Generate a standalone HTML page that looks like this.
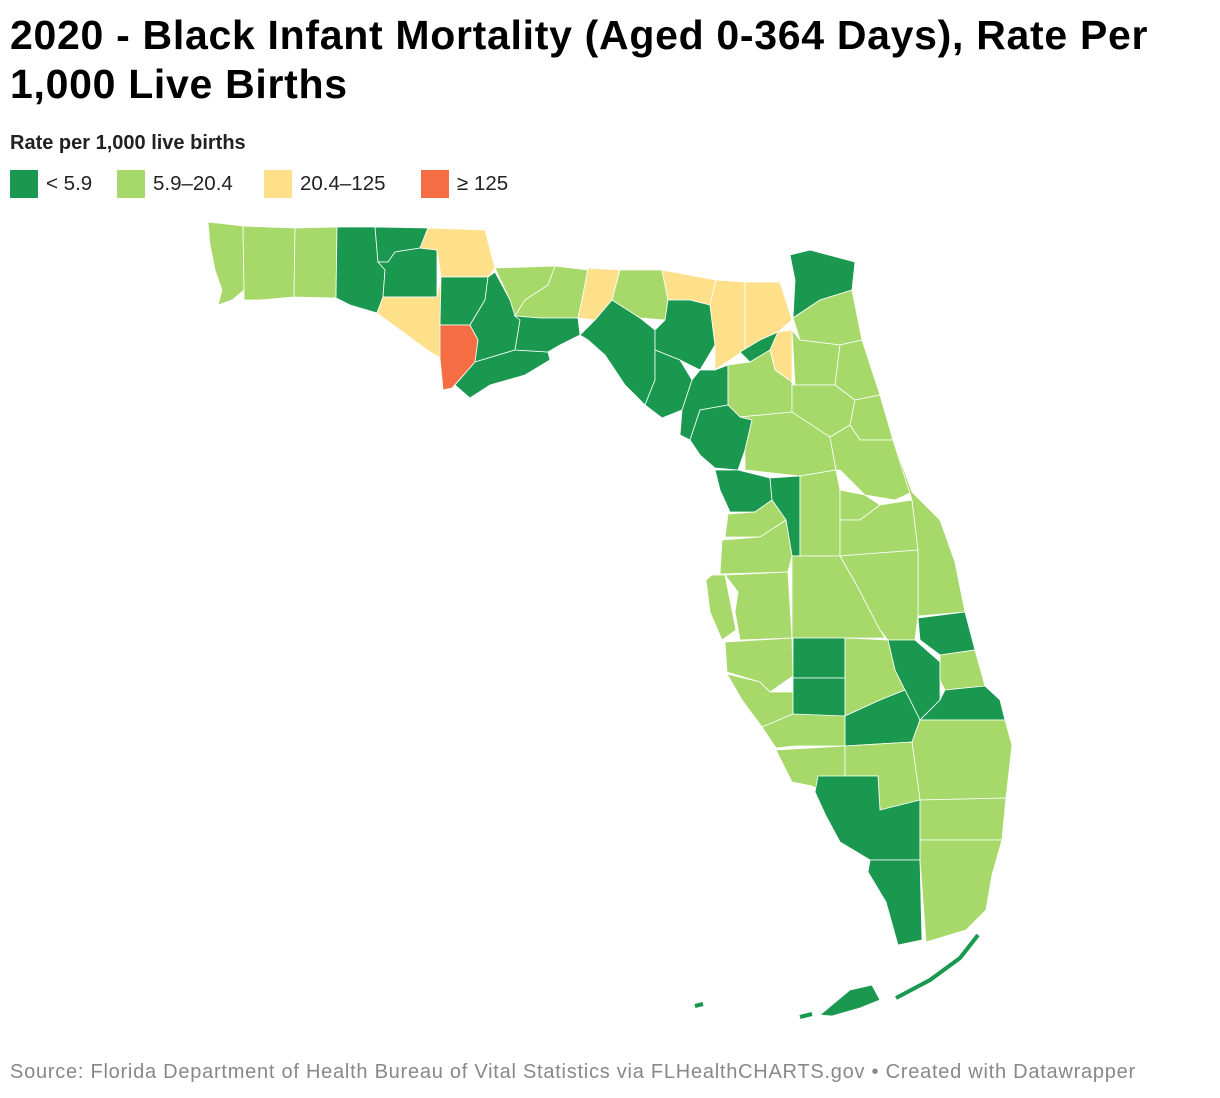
<!DOCTYPE html>
<html><head><meta charset="utf-8"><style>
body{margin:0;background:#fff;font-family:"Liberation Sans",sans-serif;}
#wrap{position:relative;width:1220px;height:1098px;overflow:hidden;}
h1{position:absolute;left:10px;top:11px;margin:0;font-size:41px;line-height:49px;font-weight:bold;color:#000;width:1175px;letter-spacing:0.7px}
#sub{position:absolute;left:10px;top:132px;font-size:20px;font-weight:bold;color:#222}
.leg{position:absolute;top:170px;display:flex;align-items:center;font-size:20.5px;color:#222}
.sw{width:28px;height:28px;margin-right:8px}
#src{position:absolute;left:10px;top:1061px;font-size:20px;letter-spacing:0.75px;color:#888;white-space:nowrap}
svg{position:absolute;left:0;top:0}
</style></head><body>
<div id="wrap">
<h1>2020 - Black Infant Mortality (Aged 0-364 Days), Rate Per 1,000 Live Births</h1>
<div id="sub">Rate per 1,000 live births</div>
<div class="leg" style="left:10px"><div class="sw" style="background:#1a9850"></div>&lt; 5.9</div>
<div class="leg" style="left:117px"><div class="sw" style="background:#a6d96a"></div>5.9–20.4</div>
<div class="leg" style="left:264px"><div class="sw" style="background:#fee08b"></div>20.4–125</div>
<div class="leg" style="left:421px"><div class="sw" style="background:#f46d43"></div>≥ 125</div>
<svg id="map" width="1220" height="1098"></svg>
<div id="src">Source: Florida Department of Health Bureau of Vital Statistics via FLHealthCHARTS.gov • Created with Datawrapper</div>
</div>
<script>
const counties=["Escambia","Santa Rosa","Okaloosa","Walton","Holmes","Washington","Jackson","Bay","Calhoun","Gulf","Liberty","Franklin","Gadsden","Leon","Wakulla","Jefferson","Madison","Taylor","Hamilton","Suwannee","Columbia","Lafayette","Dixie","Baker","Nassau","Duval","Union","Bradford","Clay","St Johns","Alachua","Putnam","Flagler","Levy","Marion","Volusia","Citrus","Sumter","Lake","Seminole","Hernando","Pasco","Orange","Brevard","Pinellas","Hillsborough","Polk","Osceola","Manatee","Hardee","Highlands","Okeechobee","Indian River","St Lucie","Martin","Sarasota","DeSoto","Charlotte","Glades","Palm Beach","Lee","Hendry","Collier","Broward","Monroe Mainland","Miami-Dade","Monroe Keys"];
const rates=[10,12,9,0,0,0,30,28,0,150,0,0,11,10,0,40,9,0,35,0,25,0,0,30,0,11,0,30,9,7,12,13,8,0,12,10,0,0,11,8,10,9,11,10,12,11,10,9,11,0,13,0,0,10,0,8,0,9,0,10,11,14,0,12,0,11,0];
const breaks=[5.9,20.4,125];
const colors=["#1a9850","#a6d96a","#fee08b","#f46d43"];
const shapes=[
"208,222 243,226 244,290 232,300 218,305 222,290 215,270 210,245",
"243,226 295,228 294,297 260,300 244,300 244,290",
"295,228 337,227 336,298 294,297",
"337,227 375,227 378,262 385,270 383,297 377,313 350,305 336,298",
"375,227 428,228 420,248 395,252 388,262 378,262",
"378,262 388,262 395,252 420,248 437,250 437,297 390,297 383,297 385,270",
"428,228 485,230 495,268 488,277 441,277 437,250 420,248",
"377,313 383,297 437,297 441,277 440,325 440,358 430,352 400,330",
"441,277 488,277 485,300 470,325 440,325",
"440,325 470,325 478,340 475,362 452,388 443,390 440,358",
"488,277 495,272 510,300 520,320 515,350 475,362 478,340 470,325 485,300",
"475,362 515,350 548,352 550,360 525,375 490,385 470,398 455,385",
"495,268 555,266 548,285 525,300 515,316 510,300",
"555,266 588,270 582,300 578,318 540,318 515,316 525,300 548,285",
"515,316 540,318 578,318 580,335 560,345 548,352 515,350 520,320",
"588,268 620,270 612,300 595,320 578,318 582,300",
"620,270 662,270 668,300 665,320 640,318 612,300",
"595,320 612,300 640,318 655,330 655,380 645,405 625,385 605,355 588,340 580,335",
"662,270 716,280 710,305 690,300 668,300",
"665,320 668,300 690,300 710,305 715,345 700,370 680,360 655,350 655,330",
"716,280 745,282 745,350 730,360 715,370 715,345 710,305",
"655,350 680,360 692,380 682,410 662,418 645,405 655,380",
"682,410 692,380 700,370 715,370 728,365 728,405 700,410 690,440 680,435",
"745,282 780,282 792,320 778,332 760,340 745,350",
"793,318 795,280 790,255 810,250 855,262 852,290 820,300",
"793,318 820,300 852,290 862,340 840,345 800,340",
"740,352 760,340 778,332 770,350 750,362",
"770,350 778,332 792,330 792,382 775,370",
"792,330 800,340 840,345 835,385 795,385",
"840,345 862,340 880,395 855,400 835,385",
"728,365 750,362 770,350 775,370 792,382 792,412 740,417 728,405",
"792,385 835,385 855,400 850,425 830,437 792,414",
"855,400 880,395 893,440 860,440 850,425",
"690,440 700,410 728,405 740,417 752,420 745,450 738,470 715,468 700,455",
"740,417 792,412 830,437 836,470 800,476 745,470 745,450 752,420",
"830,437 850,425 860,440 893,440 912,492 895,500 865,495 840,470 836,470",
"715,470 738,470 770,478 772,500 755,512 730,512 720,490",
"770,478 800,476 800,556 792,556 786,520 772,500",
"800,476 836,470 840,490 840,556 800,556",
"840,490 865,495 880,505 860,520 840,520",
"728,514 755,512 772,500 786,520 760,537 725,537",
"722,540 760,537 786,520 792,556 788,572 720,574",
"840,520 860,520 880,505 912,500 918,550 840,556",
"893,440 912,492 940,520 955,562 965,612 918,616 918,550 912,500",
"712,575 725,575 730,600 736,630 722,640 710,612 706,580",
"725,575 788,572 792,638 740,640 735,612 738,592",
"792,556 840,556 855,582 880,630 885,638 792,638",
"840,556 918,550 918,616 915,640 888,640 880,630 855,582",
"725,642 792,638 793,676 770,692 760,682 727,672",
"793,638 845,638 845,678 793,678",
"845,638 888,640 895,670 905,690 880,700 845,716",
"888,640 915,640 940,662 940,700 920,720 905,690 895,670",
"918,618 965,612 975,650 940,655 920,640",
"940,655 975,650 985,686 945,690 940,680",
"945,690 985,686 1000,700 1005,720 920,720 940,700",
"727,674 760,682 770,692 793,692 793,714 762,727 742,700",
"793,678 845,678 845,716 793,716",
"762,727 793,714 845,716 845,746 795,746 776,748",
"845,716 880,700 905,690 920,720 912,742 845,746",
"920,720 1005,720 1012,745 1006,798 920,800 912,742",
"776,750 845,746 845,776 835,800 812,786 792,782 782,762",
"845,746 912,742 920,800 880,810 878,776 845,776",
"818,776 845,776 878,776 880,810 920,800 920,860 870,860 840,842 826,816 815,792",
"920,800 1006,798 1002,840 920,840",
"870,860 920,860 922,940 898,945 886,902 868,872",
"920,840 1002,840 992,875 986,910 966,930 926,942 920,860",
"820,1015 850,990 872,985 880,1000 860,1008 832,1016"
];
const svg=document.getElementById('map');
const NS="http://www.w3.org/2000/svg";
function colorFor(v){let i=0;while(i<breaks.length&&v>=breaks[i])i++;return colors[i];}
counties.forEach((c,i)=>{
  const p=document.createElementNS(NS,'polygon');
  p.setAttribute('points',shapes[i]);
  p.setAttribute('fill',colorFor(rates[i]));
  p.setAttribute('stroke','#fff');
  p.setAttribute('stroke-width','0.8');
  
  
  svg.appendChild(p);
});
const keys=document.createElementNS(NS,'path');
keys.setAttribute('d','M896,998 L930,980 L960,958 L978,935 M800,1017 L812,1014 M695,1006 L703,1004');
keys.setAttribute('stroke',colorFor(rates[66]));
keys.setAttribute('stroke-width','4');
keys.setAttribute('fill','none');


svg.appendChild(keys);
</script>
</body></html>
